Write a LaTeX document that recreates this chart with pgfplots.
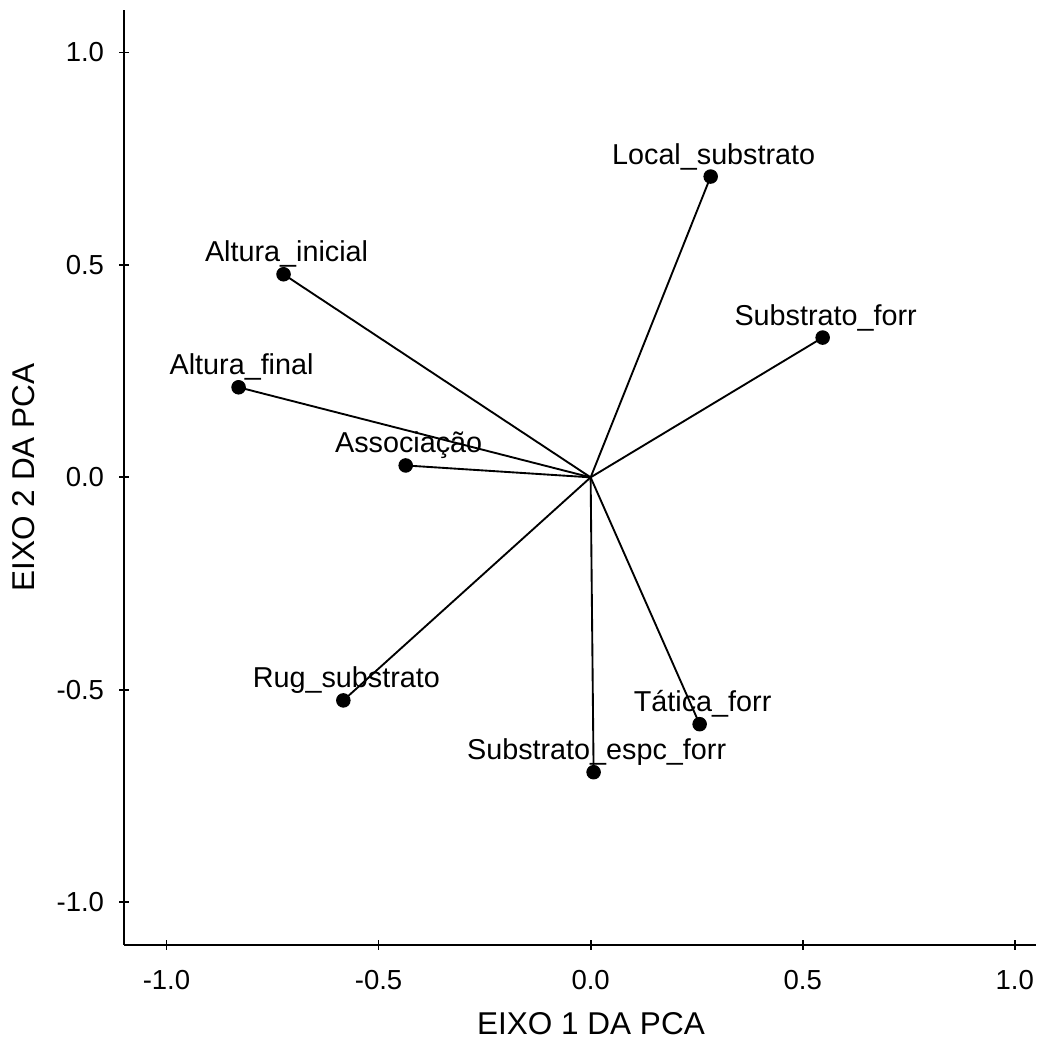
\documentclass[border=0pt]{standalone}
\usepackage{fontspec}
\setmainfont{Liberation Sans}
\usepackage{pgfplots}
\pgfplotsset{compat=1.18}
\usepackage{pgfplotstable}

\pgfplotstableread{
x y label
0.283 0.708 Local\_substrato
0.547 0.329 Substrato\_forr
-0.724 0.478 Altura\_inicial
-0.830 0.212 Altura\_final
-0.436 0.028 Associação
-0.583 -0.525 Rug\_substrato
0.257 -0.581 Tática\_forr
0.007 -0.694 Substrato\_espc\_forr
}\loadings

\begin{document}
\begin{tikzpicture}
\begin{axis}[
  scale only axis, width=364.6pt, height=373.7pt,
  xmin=-1.1, xmax=1.05, ymin=-1.1, ymax=1.1,
  axis lines=left,
  axis line style={-, line width=0.85pt, black},
  tick align=center, major tick length=4pt,
  tick style={line width=0.7pt, black},
  xtick={-1,-0.5,0,0.5,1}, xticklabels={-1.0,-0.5,0.0,0.5,1.0},
  ytick={-1,-0.5,0,0.5,1}, yticklabels={-1.0,-0.5,0.0,0.5,1.0},
  /pgf/number format/assume math mode=true,
  ticklabel style={font=\fontsize{11}{13}\selectfont, inner sep=0pt},
  xticklabel style={anchor=north, yshift=-8pt},
  yticklabel style={anchor=east, xshift=-5.8pt},
  xlabel={EIXO 1 DA PCA}, ylabel={EIXO 2 DA PCA},
  label style={font=\fontsize{12.6}{15}\selectfont, inner sep=0pt},
  x label style={at={(axis description cs:0.512,0)}, anchor=center, yshift=-31.6pt},
  y label style={at={(axis description cs:0,0.5)}, anchor=center, yshift=40pt},
  clip=false,
]
\addplot[black, line width=0.75pt] coordinates {(0,0) (0.283,0.708)};
\addplot[black, line width=0.75pt] coordinates {(0,0) (0.547,0.329)};
\addplot[black, line width=0.75pt] coordinates {(0,0) (-0.724,0.478)};
\addplot[black, line width=0.75pt] coordinates {(0,0) (-0.830,0.212)};
\addplot[black, line width=0.75pt] coordinates {(0,0) (-0.436,0.028)};
\addplot[black, line width=0.75pt] coordinates {(0,0) (-0.583,-0.525)};
\addplot[black, line width=0.75pt] coordinates {(0,0) (0.257,-0.581)};
\addplot[black, line width=0.75pt] coordinates {(0,0) (0.007,-0.694)};
\addplot[only marks, mark=*, mark size=2.7pt, black,
  nodes near coords, point meta=explicit symbolic,
  nodes near coords style={font=\fontsize{11.5}{14}\selectfont, anchor=base, inner sep=0pt, yshift=5pt, xshift=1.2pt, black}]
  table[x=x, y=y, meta=label] {\loadings};
\coordinate (sw) at (rel axis cs:0,0);
\coordinate (ne) at (rel axis cs:1,1);
\end{axis}
\pgfresetboundingbox
\useasboundingbox ([shift={(-49.6pt,-37.6pt)}]sw) rectangle ([shift={(5.6pt,4pt)}]ne);
\end{tikzpicture}
\end{document}
